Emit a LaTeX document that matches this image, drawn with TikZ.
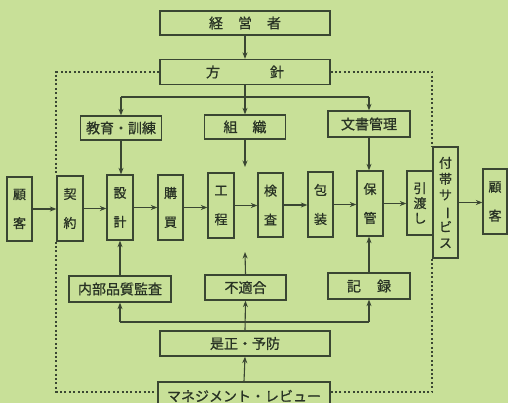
\documentclass[tikz,border=0pt]{standalone}
\usepackage{fontspec}
\usepackage{graphicx}
\setmainfont{Noto Sans CJK JP}[FakeBold=0.8]
\usetikzlibrary{arrows.meta}
\definecolor{bgc}{RGB}{200,224,152}
\definecolor{lnc}{RGB}{58,70,50}
\definecolor{txc}{RGB}{40,50,36}
\tikzset{
 box/.style={draw=lnc, line width=1.3pt, inner sep=0pt, text=txc, align=center, font=\fontsize{14pt}{16pt}\selectfont},
 vbox/.style={box, minimum width=26pt, minimum height=65pt, font=\fontsize{13pt}{16pt}\selectfont},
 arr/.style={draw=lnc, line width=1.1pt, -{Stealth[length=6.5pt,width=5pt]}},
 ln/.style={draw=lnc, line width=1.1pt},
 dotl/.style={draw=lnc, line width=2.2pt, dash pattern=on 2pt off 2.4pt}
}
\begin{document}
\begin{tikzpicture}[x=1pt,y=-1pt]
\clip (0,0) rectangle (508,403);
\fill[bgc] (0,0) rectangle (508,403);
% top
\node[box, minimum width=170pt, minimum height=24pt] (keiei) at (245,23) {経\hspace{15pt}営\hspace{15pt}者};
\node[box, minimum width=170pt, minimum height=25pt] (hoshin) at (245,72) {方\hspace{50pt}針};
\node[box, minimum width=81pt, minimum height=24pt] (kyoiku) at (121,128) {教育・訓練};
\node[box, minimum width=81pt, minimum height=24pt] (soshiki) at (245,127) {組\hspace{15pt}織};
\node[box, minimum width=82pt, minimum height=26pt] (bunsho) at (369,124) {文書管理};
% middle row
\node[vbox, minimum width=25pt, minimum height=64pt] (kok1) at (19.5,209) {顧\\[13pt]客};
\node[vbox] (keiyaku) at (70,208.5) {契\\[13pt]約};
\node[vbox] (sekkei) at (120,207.5) {設\\[13pt]計};
\node[vbox, minimum width=25pt] (kobai) at (170.5,207.5) {購\\[13pt]買};
\node[vbox] (kotei) at (221,205.5) {工\\[13pt]程};
\node[vbox, minimum width=25pt, minimum height=64pt] (kensa) at (270.5,205) {検\\[13pt]査};
\node[vbox, minimum width=25pt] (hoso) at (320.5,204.5) {包\\[13pt]装};
\node[vbox] (hokan) at (370,203.5) {保\\[13pt]管};
\node[vbox, minimum height=64pt, font=\fontsize{13pt}{15pt}\selectfont] (hiki) at (420,203) {引\\渡\\し};
\node[vbox, minimum width=25pt, minimum height=111pt, font=\fontsize{13pt}{16pt}\selectfont] (futai) at (445.5,202.5) {付\\帯\\サ\\\rotatebox[origin=c]{-90}{ー}\\ビ\\ス};
\node[vbox, minimum width=24pt, minimum height=65pt] (kok2) at (495,201.5) {顧\\[13pt]客};
% bottom
\node[box, minimum width=102pt, minimum height=26pt] (naibu) at (120,289) {内部品質監査};
\node[box, minimum width=81pt, minimum height=25pt] (fuketsu) at (245.5,287.5) {不適合};
\node[box, minimum width=82pt, minimum height=26pt] (kiroku) at (369,286) {記\hspace{16pt}録};
\node[box, minimum width=170pt, minimum height=25pt] (zesei) at (245,343.5) {是正・予防};
\node[box, minimum width=172pt, minimum height=28pt] (review) at (244,396) {マネジメント・レビュー};
% coordinates
\coordinate (busT) at (245,97);
\coordinate (busB) at (245,322);
\coordinate (gapT) at (245,167);
\coordinate (gapB) at (245,252);
% top connectors
\draw[arr] (keiei.south) -- (hoshin.north);
\draw[ln] (hoshin.south) -- (busT);
\draw[ln] (kyoiku.north |- busT) -- (bunsho.north |- busT);
\draw[arr] (kyoiku.north |- busT) -- (kyoiku.north);
\draw[arr] (busT) -- (soshiki.north);
\draw[arr] (bunsho.north |- busT) -- (bunsho.north);
\draw[arr] (kyoiku.south) -- (kyoiku.south |- sekkei.north);
\draw[arr] (soshiki.south) -- (gapT);
\draw[arr] (bunsho.south) -- (bunsho.south |- hokan.north);
% row arrows
\draw[arr] (kok1.east) -- (kok1.east -| keiyaku.west);
\draw[arr] (keiyaku.east) -- (keiyaku.east -| sekkei.west);
\draw[arr] (sekkei.east) -- (sekkei.east -| kobai.west);
\draw[arr] (kobai.east) -- (kobai.east -| kotei.west);
\draw[arr] (kotei.east) -- (kotei.east -| kensa.west);
\draw[arr] (kensa.east) -- (kensa.east -| hoso.west);
\draw[arr] (hoso.east) -- (hoso.east -| hokan.west);
\draw[arr] (hokan.east) -- (hokan.east -| hiki.west);
\draw[arr] (futai.east) -- (futai.east -| kok2.west);
% bottom connectors
\draw[arr] (naibu.north) -- (naibu.north |- sekkei.south);
\draw[arr] (fuketsu.north) -- (gapB);
\draw[arr] (kiroku.north) -- (kiroku.north |- hokan.south);
\draw[ln] (naibu.south |- busB) -- (kiroku.south |- busB);
\draw[arr] (naibu.south |- busB) -- (naibu.south);
\draw[arr] (kiroku.south |- busB) -- (kiroku.south);
\draw[arr] (zesei.north) -- (fuketsu.south);
\draw[arr] (review.north) -- (zesei.south);
% dotted boundary
\draw[dotl] (hoshin.west) -| (keiyaku.north west);
\draw[dotl] (keiyaku.south west) |- ([yshift=4pt]review.west);
\draw[dotl] (hoshin.east) -| (futai.north west);
\draw[dotl] (futai.south west) |- ([yshift=4pt]review.east);
\end{tikzpicture}
\end{document}
